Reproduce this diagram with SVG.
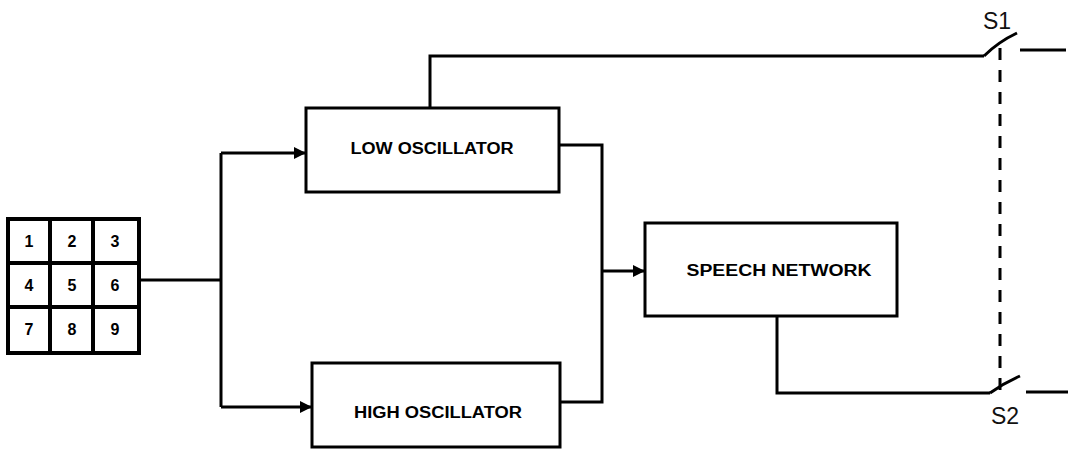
<svg xmlns="http://www.w3.org/2000/svg" width="1068" height="450" viewBox="0 0 1068 450">
<style>
.box{fill:#fff;stroke:#000;stroke-width:3}
.kp{fill:#fff;stroke:#000;stroke-width:4}
.ln{fill:none;stroke:#000;stroke-width:3}
.lbl{font-family:"Liberation Sans",Arial,sans-serif;font-weight:bold;font-size:16px;fill:#000;text-anchor:middle}
.dig{font-family:"Liberation Sans",Arial,sans-serif;font-weight:bold;font-size:16px;fill:#000;text-anchor:middle}
.sw{font-family:"Liberation Sans",Arial,sans-serif;font-size:23px;fill:#111;text-anchor:middle}
</style>
<defs>
<marker id="arr" viewBox="0 0 10 10" refX="10" refY="5" markerWidth="4" markerHeight="4" orient="auto" markerUnits="strokeWidth">
<path d="M0,0 L10,5 L0,10 z" fill="#000"/>
</marker>
</defs>
<rect width="1068" height="450" fill="#fff"/>
<g id="connectors">
<path class="ln" d="M139,280 H221"/>
<path class="ln" d="M221,153 V407"/>
<path class="ln" d="M221,153 H306" marker-end="url(#arr)"/>
<path class="ln" d="M221,407 H312" marker-end="url(#arr)"/>
<path class="ln" d="M559,145 H602 V402 H560"/>
<path class="ln" d="M602,271 H645" marker-end="url(#arr)"/>
<path class="ln" d="M430,108 V56 H984"/>
<path class="ln" d="M777,316 V393 H990"/>
</g>
<g id="switch-S1">
<path class="ln" d="M984,56 Q998,42 1017,33"/>
<path class="ln" d="M1020,50 H1066"/>
<text class="sw" x="997" y="29">S1</text>
</g>
<g id="switch-S2">
<path class="ln" d="M990,393 Q1004,383 1020,376"/>
<path class="ln" d="M1026,392 H1068"/>
<text class="sw" x="1005" y="424">S2</text>
</g>
<g id="gang">
<path class="ln" d="M1000,48 V392" stroke-dasharray="12,10"/>
</g>
<g id="keypad">
<rect class="kp" x="8" y="219" width="131" height="134"/>
<path class="kp" d="M50,219 V353 M93,219 V353 M8,263 H139 M8,307 H139"/>
<text class="dig" x="29" y="247">1</text>
<text class="dig" x="72" y="247">2</text>
<text class="dig" x="115" y="247">3</text>
<text class="dig" x="29" y="291">4</text>
<text class="dig" x="72" y="291">5</text>
<text class="dig" x="115" y="291">6</text>
<text class="dig" x="29" y="335">7</text>
<text class="dig" x="72" y="335">8</text>
<text class="dig" x="115" y="335">9</text>
</g>
<g id="low-osc">
<rect class="box" x="306" y="108" width="253" height="84"/>
<text class="lbl" x="432" y="154" textLength="163" lengthAdjust="spacingAndGlyphs">LOW OSCILLATOR</text>
</g>
<g id="high-osc">
<rect class="box" x="312" y="363" width="248" height="84"/>
<text class="lbl" x="438" y="418" textLength="168" lengthAdjust="spacingAndGlyphs">HIGH OSCILLATOR</text>
</g>
<g id="speech">
<rect class="box" x="645" y="223" width="252" height="93"/>
<text class="lbl" x="779" y="276" textLength="185" lengthAdjust="spacingAndGlyphs">SPEECH NETWORK</text>
</g>
</svg>
